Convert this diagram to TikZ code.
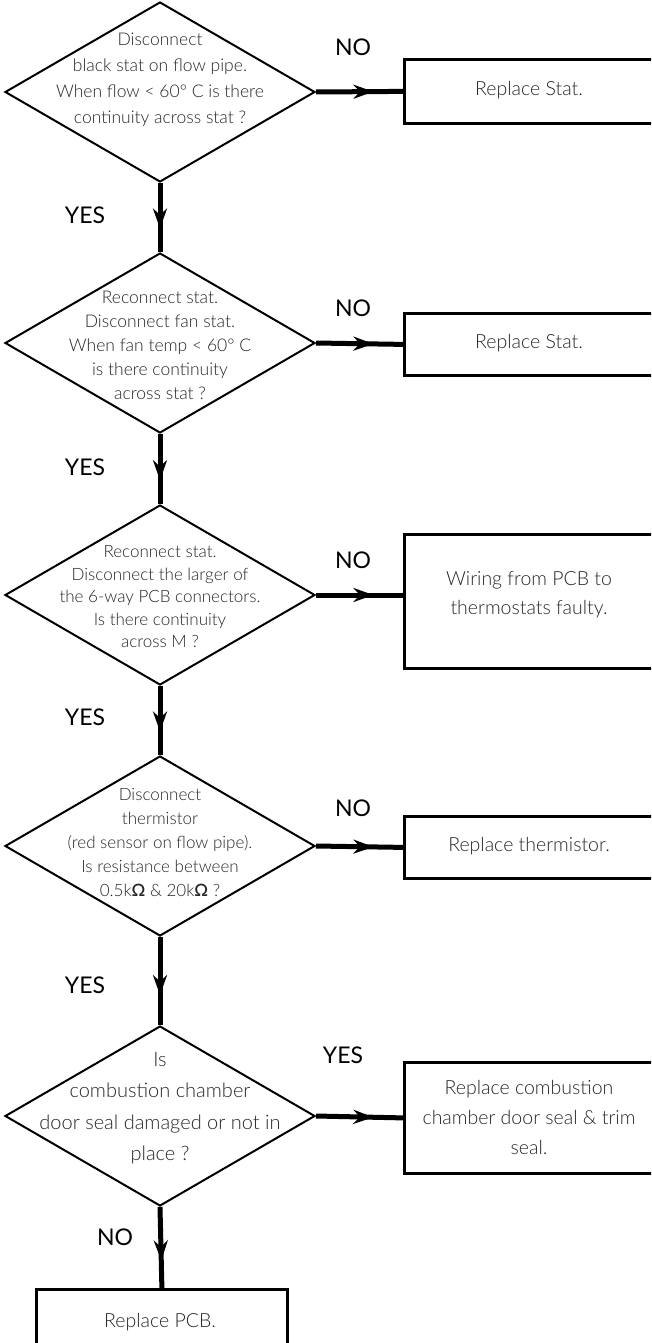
\documentclass[tikz,border=0pt]{standalone}
\usepackage{fontspec}
\setmainfont{Lato}
\newfontfamily\lightfam{Lato Light}
\usetikzlibrary{shapes.geometric,arrows.meta,decorations.markings}
\newcommand\bodysz[2]{\lightfam\fontsize{#1}{#2}\selectfont}
\begin{document}
\begin{tikzpicture}[x=1pt,y=-1pt,
  dia/.style={draw, line width=2pt, shape=diamond, minimum width=310pt, minimum height=180pt, inner sep=0pt},
  box/.style={draw, line width=2.8pt, rectangle, inner sep=0pt, anchor=north west},
  txt/.style={text=black!85, align=center, inner sep=0pt},
  lab/.style={font=\fontsize{23}{26}\selectfont, inner sep=0pt},
  conn/.style={line width=5pt, postaction={decorate},
    decoration={markings, mark=at position 0.66 with {\arrow{Stealth[length=20pt,width=14pt]}}}}]
\path[use as bounding box] (0,0) rectangle (651,1343);
\clip (0,0) rectangle (651,1343);

% diamonds
\node[dia] (d1) at (160,92) {};
\node[dia] (d2) at (160,343) {};
\node[dia] (d3) at (160,595) {};
\node[dia] (d4) at (160,846) {};
\node[dia] (d5) at (160,1116) {};

\node[txt, font=\bodysz{17.5}{26}] (t1) at (160,80) {Disconnect\\black stat on flow pipe.\\When flow < 60° C is there\\continuity across stat ?};
\node[txt, font=\bodysz{17.5}{24}] (t2) at (160,345) {Reconnect stat.\\Disconnect fan stat.\\When fan temp < 60° C\\is there continuity\\across stat ?};
\node[txt, font=\bodysz{17}{22.5}] (t3) at (160,597) {Reconnect stat.\\Disconnect the larger of\\the 6-way PCB connectors.\\Is there continuity\\across M ?};
\node[txt, font=\bodysz{17}{24}] (t4) at (160,842) {Disconnect\\thermistor\\(red sensor on flow pipe).\\Is resistance between\\0.5k\textbf{Ω} \& 20k\textbf{Ω} ?};
\node[txt, font=\bodysz{20}{31.5}] (t5) at (160,1108) {Is\\combustion chamber\\door seal damaged or not in\\place ?};

% boxes
\node[box, minimum width=252pt, minimum height=64pt] (b1) at (403,58) {};
\node[box, minimum width=252pt, minimum height=62pt] (b2) at (403,312) {};
\node[box, minimum width=252pt, minimum height=134pt] (b3) at (403,533) {};
\node[box, minimum width=252pt, minimum height=62pt] (b4) at (403,815) {};
\node[box, minimum width=252pt, minimum height=111pt] (b5) at (403,1061) {};
\node[box, minimum width=251pt, minimum height=80pt] (b6) at (35,1288) {};

\node[txt, font=\bodysz{19.5}{26}] (u1) at (529,90) {Replace Stat.};
\node[txt, font=\bodysz{19.5}{26}] (u2) at (529,343) {Replace Stat.};
\node[txt, font=\bodysz{19.5}{29}] (u3) at (529,595) {Wiring from PCB to\\thermostats faulty.};
\node[txt, font=\bodysz{19.5}{26}] (u4) at (529,846) {Replace thermistor.};
\node[txt, font=\bodysz{19.5}{30}] (u5) at (529,1117) {Replace combustion\\chamber door seal \& trim\\seal.};
\node[txt, font=\bodysz{19.5}{26}] (u6) at (160,1322) {Replace PCB.};

% labels
\node[lab] (n1) at (353,47) {NO};
\node[lab] (y1) at (85,215) {YES};
\node[lab] (n2) at (353,308) {NO};
\node[lab] (y2) at (85,467) {YES};
\node[lab] (n3) at (353,560) {NO};
\node[lab] (y3) at (85,717) {YES};
\node[lab] (n4) at (353,808) {NO};
\node[lab] (y4) at (85,985) {YES};
\node[lab] (y5) at (343,1055) {YES};
\node[lab] (n5) at (115,1237) {NO};

% connectors
\draw[conn] (d1.east) -- (b1.west);
\draw[conn] (d2.east) -- (b2.west);
\draw[conn] (d3.east) -- (b3.west |- d3.east);
\draw[conn] (d4.east) -- (b4.west);
\draw[conn] (d5.east) -- (b5.west);
\draw[conn] (d1.south) -- (d2.north);
\draw[conn] (d2.south) -- (d3.north);
\draw[conn] (d3.south) -- (d4.north);
\draw[conn] (d4.south) -- (d5.north);
\draw[conn] (d5.south) -- (b6.north);
\end{tikzpicture}
\end{document}
